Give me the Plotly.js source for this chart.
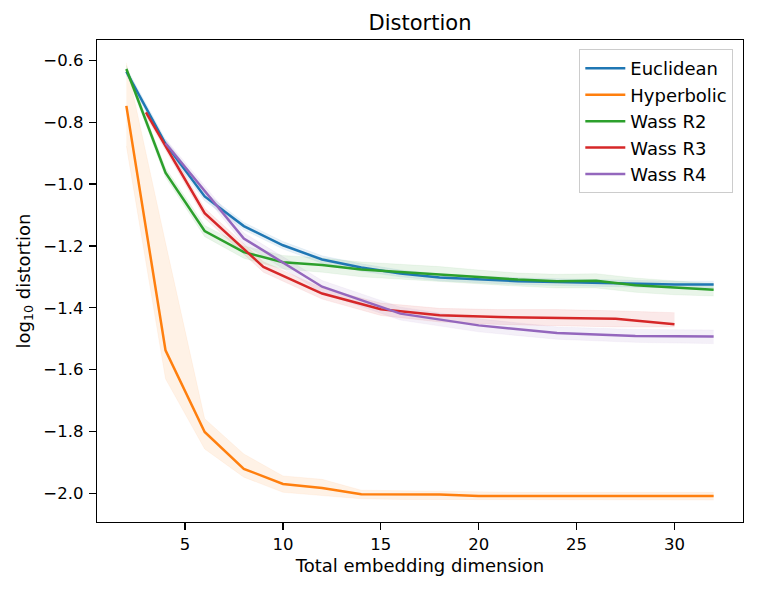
<!DOCTYPE html>
<html>
<head>
<meta charset="utf-8">
<script src="https://cdn.plot.ly/plotly-3.0.1.min.js"></script>
<style>
  body { margin: 0; background: #fff; }
  #chart { width: 762px; height: 590px; }
</style>
</head>
<body>
<div id="chart"></div>
<script>
// dimensions for each run
const dimStep2 = [2, 4, 6, 8, 10, 12, 14, 16, 18, 20, 22, 24, 26, 28, 30, 32];
const dimStep3 = [3, 6, 9, 12, 15, 18, 21, 24, 27, 30];
const dimStep4 = [4, 8, 12, 16, 20, 24, 28, 32];

// log10 distortion, mean and band edges
const euclidean    = [-0.636, -0.870, -1.040, -1.136, -1.198, -1.244, -1.270, -1.289, -1.302, -1.309, -1.314, -1.317, -1.320, -1.323, -1.325, -1.325];
const euclideanLo  = [-0.648, -0.884, -1.054, -1.148, -1.210, -1.256, -1.282, -1.300, -1.313, -1.320, -1.325, -1.328, -1.331, -1.334, -1.336, -1.336];
const euclideanHi  = [-0.624, -0.856, -1.026, -1.124, -1.186, -1.232, -1.258, -1.278, -1.291, -1.298, -1.303, -1.306, -1.309, -1.312, -1.314, -1.314];

const hyperbolic   = [-0.747, -1.538, -1.802, -1.921, -1.970, -1.983, -2.003, -2.004, -2.004, -2.009, -2.009, -2.009, -2.009, -2.009, -2.009, -2.009];
const hyperbolicLo = [-0.877, -1.630, -1.857, -1.948, -1.997, -2.007, -2.018, -2.020, -2.020, -2.022, -2.022, -2.022, -2.022, -2.022, -2.022, -2.022];
const hyperbolicHi = [-0.608, -1.190, -1.759, -1.873, -1.944, -1.955, -1.990, -1.992, -1.993, -1.997, -1.997, -1.997, -1.997, -1.997, -1.997, -1.997];

const wassR2       = [-0.628, -0.963, -1.152, -1.220, -1.253, -1.262, -1.276, -1.284, -1.291, -1.300, -1.309, -1.314, -1.313, -1.327, -1.335, -1.342];
const wassR2Lo     = [-0.640, -0.978, -1.170, -1.240, -1.275, -1.285, -1.300, -1.308, -1.315, -1.322, -1.330, -1.336, -1.336, -1.350, -1.358, -1.362];
const wassR2Hi     = [-0.616, -0.948, -1.134, -1.200, -1.231, -1.239, -1.252, -1.260, -1.267, -1.278, -1.288, -1.292, -1.290, -1.304, -1.312, -1.322];

const wassR3       = [-0.768, -1.094, -1.268, -1.354, -1.405, -1.424, -1.430, -1.432, -1.436, -1.453];
const wassR3Lo     = [-0.780, -1.110, -1.285, -1.372, -1.425, -1.446, -1.454, -1.458, -1.462, -1.462];
const wassR3Hi     = [-0.756, -1.078, -1.251, -1.336, -1.385, -1.402, -1.406, -1.406, -1.410, -1.416];

const wassR4       = [-0.868, -1.176, -1.332, -1.419, -1.457, -1.482, -1.491, -1.493];
const wassR4Lo     = [-0.882, -1.194, -1.352, -1.440, -1.478, -1.502, -1.512, -1.516];
const wassR4Hi     = [-0.854, -1.158, -1.312, -1.398, -1.436, -1.462, -1.470, -1.472];

const series = [
    { name: 'Euclidean',  x: dimStep2, y: euclidean,  lo: euclideanLo,  hi: euclideanHi,  color: '31,119,180' },
    { name: 'Hyperbolic', x: dimStep2, y: hyperbolic, lo: hyperbolicLo, hi: hyperbolicHi, color: '255,127,14' },
    { name: 'Wass R2',    x: dimStep2, y: wassR2,     lo: wassR2Lo,     hi: wassR2Hi,     color: '44,160,44' },
    { name: 'Wass R3',    x: dimStep3, y: wassR3,     lo: wassR3Lo,     hi: wassR3Hi,     color: '214,39,40' },
    { name: 'Wass R4',    x: dimStep4, y: wassR4,     lo: wassR4Lo,     hi: wassR4Hi,     color: '148,103,189' },
];

const traces = [];

// shaded bands first, lines go on top
series.forEach(s => {
    traces.push({
        x: s.x, y: s.lo, mode: 'lines', type: 'scatter',
        line: { width: 0.5, color: 'rgba(' + s.color + ',0.12)' },
        showlegend: false, hoverinfo: 'skip'
    });
    traces.push({
        x: s.x, y: s.hi, mode: 'lines', type: 'scatter',
        fill: 'tonexty', fillcolor: 'rgba(' + s.color + ',0.1)',
        line: { width: 0.5, color: 'rgba(' + s.color + ',0.12)' },
        showlegend: false, hoverinfo: 'skip'
    });
});

series.forEach(s => {
    traces.push({
        x: s.x, y: s.y, name: s.name, mode: 'lines', type: 'scatter',
        line: { width: 2.5, color: 'rgb(' + s.color + ')' }
    });
});

const font = 'DejaVu Sans, sans-serif';

const layout = {
    width: 762,
    height: 590,
    margin: { l: 97, r: 19, t: 40, b: 68 },
    paper_bgcolor: '#fff',
    plot_bgcolor: '#fff',
    font: { family: font, color: '#000', size: 16 },
    title: {
        text: 'Distortion',
        font: { family: font, size: 21, color: '#000' },
        x: 0.5, xref: 'paper', xanchor: 'center',
        y: 0.962, yref: 'container', yanchor: 'middle'
    },
    xaxis: {
        range: [0.5, 33.5],
        tickvals: [5, 10, 15, 20, 25, 30],
        ticks: 'outside', ticklen: 7, tickwidth: 1.2, tickcolor: '#000',
        showline: true, mirror: true, linecolor: '#000', linewidth: 1.3,
        showgrid: false, zeroline: false,
        tickfont: { family: font, size: 16.5 },
        title: { text: 'Total embedding dimension', font: { family: font, size: 18 }, standoff: 6 }
    },
    yaxis: {
        range: [-2.093, -0.534],
        tick0: -2, dtick: 0.2, tickformat: '.1f',
        ticks: 'outside', ticklen: 7, tickwidth: 1.2, tickcolor: '#000',
        showline: true, mirror: true, linecolor: '#000', linewidth: 1.3,
        showgrid: false, zeroline: false,
        ticklabelstandoff: 2,
        tickfont: { family: font, size: 16.5 },
        automargin: true,
        title: { text: 'log<sub>10</sub> distortion', font: { family: font, size: 18 }, standoff: 8 }
    },
    legend: {
        x: 0.985, xanchor: 'right', y: 0.981, yanchor: 'top',
        traceorder: 'normal',
        itemwidth: 40,
        bgcolor: 'rgba(255,255,255,0.8)', bordercolor: '#ccc', borderwidth: 1,
        font: { family: font, size: 18 },
        tracegroupgap: 0
    },
    showlegend: true
};

Plotly.newPlot('chart', traces, layout, { displayModeBar: false, staticPlot: true });
</script>
</body>
</html>
